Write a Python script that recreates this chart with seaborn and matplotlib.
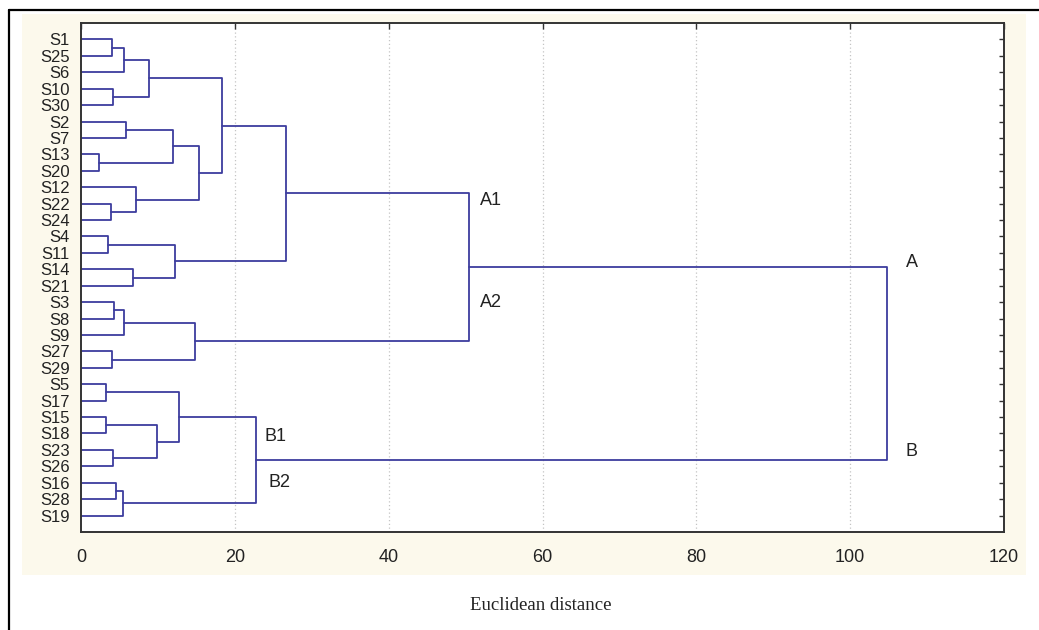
import matplotlib
matplotlib.use('Agg')
import matplotlib.pyplot as plt
import seaborn as sns
import pandas as pd
from matplotlib.lines import Line2D
from matplotlib.patches import Rectangle
from matplotlib.ticker import MultipleLocator, FixedLocator

# Leaf order, top to bottom
leaves = ["S1", "S25", "S6", "S10", "S30", "S2", "S7", "S13", "S20", "S12",
          "S22", "S24", "S4", "S11", "S14", "S21", "S3", "S8", "S9", "S27",
          "S29", "S5", "S17", "S15", "S18", "S23", "S26", "S16", "S28", "S19"]

# Merges: left child, right child, distance, new node
merge_left = ["S1", "c1", "S10", "c2", "S2", "S13", "c5", "S22", "S12", "c7",
              "c4", "S4", "S14", "c12", "c11", "S3", "c15", "S27", "c16", "A1",
              "S5", "S15", "S23", "c19", "c18", "S16", "c22", "B1", "A"]
merge_right = ["S25", "S6", "S30", "c3", "S7", "S20", "c6", "S24", "c8", "c9",
               "c10", "S11", "S21", "c13", "c14", "S8", "S9", "S29", "c17", "A2",
               "S17", "S18", "S26", "c20", "c21", "S28", "S19", "B2", "B"]
merge_dist = [4.0, 5.6, 4.2, 8.8, 5.9, 2.3, 11.9, 3.9, 7.2, 15.4,
              18.3, 3.5, 6.8, 12.2, 26.7, 4.3, 5.6, 4.0, 14.8, 50.4,
              3.3, 3.3, 4.2, 9.9, 12.8, 4.5, 5.4, 22.7, 104.8]
merge_name = ["c1", "c2", "c3", "c4", "c5", "c6", "c7", "c8", "c9", "c10",
              "c11", "c12", "c13", "c14", "A1", "c15", "c16", "c17", "A2", "A",
              "c18", "c19", "c20", "c21", "B1", "c22", "B2", "B", "root"]

# Cluster labels
group_labels = ["A1", "A2", "A", "B", "B1", "B2"]
group_x = [51.9, 51.9, 107.2, 107.2, 23.9, 24.4]
group_y = [10.8, 17.0, 14.6, 26.1, 25.2, 28.0]

x_ticks = [0, 20, 40, 60, 80, 100, 120]

LINE = "#3d3d9e"

# build dendrogram segments (node sits at mean of its children)
pos = {name: i + 1 for i, name in enumerate(leaves)}
height = {name: 0.0 for name in leaves}
rows = []
for k, (l, r, h, name) in enumerate(zip(merge_left, merge_right, merge_dist, merge_name)):
    yl, yr = pos[l], pos[r]
    for px, py in [(height[l], yl), (h, yl), (h, yr), (height[r], yr)]:
        rows.append({"seg": k, "dist": px, "pos": py})
    pos[name] = (yl + yr) / 2
    height[name] = h
seg_df = pd.DataFrame(rows)

sns.set_style("white")
plt.rcParams['font.family'] = ['Liberation Sans', 'DejaVu Sans']

fig = plt.figure(figsize=(10.39, 6.30), dpi=100)
fig.patch.set_facecolor("white")

# cream panel behind the plot and the outer frame lines
fig.add_artist(Rectangle((22 / 1039, 1 - 575 / 630), (1026 - 22) / 1039, (575 - 14) / 630,
                         transform=fig.transFigure, facecolor="#fcf9ec", edgecolor="none", zorder=0))
fig.add_artist(Line2D([9 / 1039, 9 / 1039], [0, 1 - 10 / 630], transform=fig.transFigure,
                      color="black", lw=1.6))
fig.add_artist(Line2D([9 / 1039, 1], [1 - 10 / 630, 1 - 10 / 630], transform=fig.transFigure,
                      color="black", lw=1.6))

ax = fig.add_axes([81 / 1039, 1 - 532 / 630, (1004 - 81) / 1039, (532 - 23) / 630])
ax.set_facecolor("white")

sns.lineplot(data=seg_df, x="dist", y="pos", units="seg", estimator=None, sort=False,
             color=LINE, lw=1.3, ax=ax, legend=False)

ax.set_xlim(0, 120)
ax.set_ylim(31, 0)

# dotted vertical grid
for gx in x_ticks[1:-1]:
    ax.axvline(gx, color="#c4c4c4", lw=0.9, ls=(0, (1, 2)), zorder=0)

ax.xaxis.set_major_locator(FixedLocator(x_ticks))
ax.xaxis.set_minor_locator(MultipleLocator(4))
ax.set_xticklabels([str(t) for t in x_ticks], fontsize=13, color="#222222")
ax.set_yticks(range(1, len(leaves) + 1))
ax.set_yticklabels(leaves, fontsize=12, color="#222222")
ax.tick_params(axis="both", which="both", direction="in", right=True,
               length=3.5, width=1, color="#333333")
ax.tick_params(axis="x", which="major", top=True, pad=12, length=4)
ax.tick_params(axis="x", which="minor", top=False)
ax.tick_params(axis="y", pad=8)

for sp in ax.spines.values():
    sp.set_color("#333333")
    sp.set_linewidth(1.4)

ax.set_xlabel("")
ax.set_ylabel("")

for lab, gx, gy in zip(group_labels, group_x, group_y):
    ax.text(gx, gy, lab, fontsize=13, color="#222222", ha="left", va="center")

fig.text(541 / 1039, 1 - 606 / 630, "Euclidean distance", fontsize=13.5,
         family=['Liberation Serif', 'DejaVu Serif'], ha="center", va="center", color="#222222")

fig.savefig("out.png", dpi=100)
